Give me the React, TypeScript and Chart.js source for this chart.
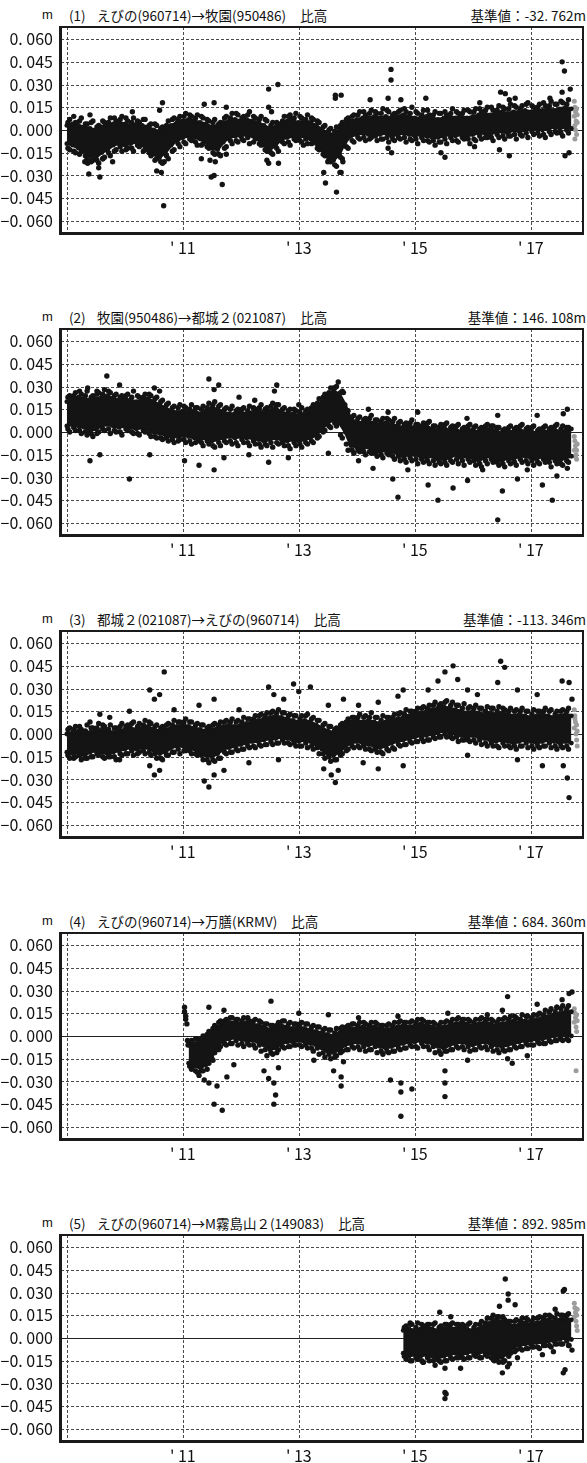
import React, { useEffect, useRef } from "react";
import { Chart, registerables } from "chart.js";
Chart.register(...registerables);

// ---------- axes ----------
const X_MIN = 2008.9;
const X_MAX = 2017.9;
const X_TICKS = [2009, 2011, 2013, 2015, 2017];
const X_LABELS = ["", "' 11", "' 13", "' 15", "' 17"];
const Y_MIN = -0.068;
const Y_MAX = 0.068;
const Y_TICKS = [-0.06, -0.045, -0.03, -0.015, 0, 0.015, 0.03, 0.045, 0.06];
const Y_LABELS = ["−0. 060", "−0. 045", "−0. 030", "−0. 015", "0. 000", "0. 015", "0. 030", "0. 045", "0. 060"];

// band samples every 0.1 year (values in mm): HI/LO = edges of the dense cloud,
// FHI/FLO = scattered dots just outside (half a step later), F2HI/F2LO = more of them (0.02 yr later).
const STEP = 0.1;

// ---------- (1) えびの→牧園 ----------
const P1_START = 2009.0;
const P1_HI = [3, 4, 3, 2, 1, 0, 2, 3, 4, 5, 4, 3, 4, 3, 2, 0, -1, 1, 3, 5, 6, 7, 6, 5, 4, 2, 3, 5, 6, 7, 6, 7, 6, 5, 3, 1, 2, 4, 6, 6, 5, 6, 5, 3, 0, -2, -3, 0, 4, 6, 7, 8, 8, 9, 8, 9, 8, 9, 10, 9, 8, 8, 9, 8, 7, 8, 9, 8, 9, 8, 9, 10, 11, 10, 11, 12, 11, 12, 12, 13, 12, 13, 13, 14, 13, 14, 15, 14];
const P1_LO = [-9, -10, -12, -14, -17, -18, -15, -13, -10, -9, -10, -9, -8, -10, -13, -16, -18, -15, -10, -7, -5, -4, -5, -6, -8, -12, -13, -8, -5, -4, -4, -3, -4, -6, -10, -13, -10, -6, -5, -4, -5, -4, -6, -9, -13, -17, -20, -16, -8, -4, -3, -2, -3, -2, -3, -2, -4, -3, -2, -3, -4, -3, -4, -5, -5, -4, -3, -4, -3, -4, -3, -2, -2, -3, -1, -1, -2, 0, -1, 0, 1, 1, 0, 1, 2, 1, 2, 1];
const P1_FHI = [7, 5, 8, 4, 6, 3, 5, 8, 6, 9, 6, 8, 5, 7, 4, 3, 2, 6, 8, 9, 11, 9, 10, 8, 6, 7, 5, 9, 11, 10, 9, 12, 8, 9, 6, 5, 4, 9, 8, 11, 8, 10, 7, 5, 3, 1, 2, 5, 8, 10, 12, 10, 13, 11, 14, 12, 11, 13, 12, 15, 11, 13, 10, 12, 11, 10, 14, 11, 13, 12, 14, 12, 15, 13, 16, 14, 17, 15, 16, 18, 15, 17, 16, 19, 17, 18, 20];
const P1_FLO = [-13, -15, -14, -19, -20, -22, -18, -17, -13, -14, -12, -14, -11, -13, -17, -19, -22, -19, -13, -11, -9, -7, -10, -9, -12, -16, -17, -11, -9, -8, -7, -9, -6, -10, -14, -16, -14, -9, -10, -7, -8, -9, -7, -13, -17, -21, -24, -19, -12, -8, -6, -7, -5, -7, -6, -8, -7, -6, -8, -7, -9, -7, -8, -10, -8, -9, -7, -8, -6, -9, -7, -6, -5, -7, -5, -6, -4, -6, -4, -5, -3, -4, -5, -3, -2, -4, -2];
const P1_F2HI = [5, 9, 6, 4, 5, 2, 6, 5, 8, 7, 8, 5, 6, 7, 3, 4, 1, 3, 7, 7, 9, 10, 8, 9, 7, 5, 4, 8, 8, 11, 8, 10, 9, 7, 7, 3, 5, 6, 9, 8, 9, 7, 8, 6, 2, 0, -1, 3, 7, 9, 10, 12, 11, 12, 11, 13, 10, 12, 14, 11, 12, 10, 13, 10, 11, 12, 11, 12, 11, 13, 12, 14, 13, 15, 13, 15, 14, 16, 14, 17, 16, 15, 18, 16, 17, 19, 17];
const P1_F2LO = [-12, -14, -16, -17, -21, -20, -19, -15, -14, -11, -13, -12, -10, -14, -15, -20, -21, -17, -14, -9, -8, -6, -8, -10, -11, -15, -16, -12, -7, -7, -6, -5, -8, -9, -13, -15, -12, -8, -8, -6, -7, -6, -9, -12, -16, -19, -23, -18, -11, -7, -5, -5, -6, -4, -6, -5, -6, -5, -5, -6, -6, -5, -7, -7, -8, -6, -5, -7, -5, -6, -6, -4, -5, -5, -3, -4, -4, -3, -3, -2, -1, -2, -3, -1, -1, -2, 0];
const P1_OUT = [
  [2009.31, -21], [2009.36, -22], [2009.38, -29], [2009.43, -20], [2009.55, -25], [2009.57, -31], [2009.62, -19], [2009.79, -21],
  [2010.55, -27], [2010.63, -28], [2010.67, -50], [2010.68, -21],
  [2011.32, -19], [2011.47, -20], [2011.49, -31], [2011.54, -30], [2011.56, -21], [2011.68, -36], [2011.75, -16],
  [2012.45, -20], [2012.48, -22], [2012.65, -22],
  [2013.08, -10], [2013.43, -28], [2013.46, -35], [2013.5, -21], [2013.65, -41], [2013.71, -28], [2013.73, -28], [2013.76, -21],
  [2014.54, -12], [2014.6, -15], [2015.45, -15], [2015.52, -18], [2016.03, -11], [2016.46, -13], [2016.63, -17], [2017.59, -17], [2017.66, -15],
  [2009.4, 10], [2010.13, 12], [2010.6, 13], [2010.65, 18], [2011.37, 17], [2011.54, 18], [2011.75, 15], [2012.48, 27], [2012.64, 30],
  [2012.48, 15], [2012.53, 12], [2012.85, 10], [2013.63, 23], [2013.73, 23], [2013.63, 21], [2014.23, 20], [2014.54, 21], [2014.59, 40],
  [2014.59, 33], [2014.76, 20], [2015.19, 21], [2016.12, 18], [2016.48, 25], [2016.56, 24], [2016.63, 20], [2016.73, 21], [2017.33, 21],
  [2017.54, 45], [2017.58, 39], [2017.54, 25], [2017.68, 27],
];
const P1_GRAY = [[2017.75, 19], [2017.76, 15], [2017.77, 12], [2017.75, 9], [2017.78, 6], [2017.76, 3], [2017.77, 0], [2017.79, -3], [2017.76, -6], [2017.8, 10], [2017.79, 14], [2017.8, 5]];

// ---------- (2) 牧園→都城２ ----------
const P2_START = 2009.0;
const P2_HI = [20, 22, 23, 22, 21, 22, 23, 24, 22, 21, 22, 21, 20, 21, 22, 20, 18, 16, 14, 13, 14, 13, 14, 12, 14, 16, 15, 13, 12, 12, 13, 12, 13, 14, 13, 14, 16, 13, 12, 12, 11, 12, 13, 16, 20, 24, 27, 25, 18, 8, 7, 6, 7, 6, 5, 6, 5, 4, 3, 4, 3, 2, 4, 2, 1, 3, 1, 2, 0, 2, 1, 0, 2, 2, 1, -1, 1, 0, 2, 0, 1, -1, 1, 0, 2, 0, 1, 2];
const P2_LO = [4, 5, 4, 3, 1, 2, 4, 5, 4, 3, 4, 3, 2, 3, 2, 0, -1, -2, -3, -3, -2, -3, -4, -5, -4, -6, -5, -4, -3, -4, -3, -4, -4, -5, -6, -5, -4, -5, -6, -5, -6, -5, -4, -2, 2, 6, 8, 6, 0, -9, -10, -11, -10, -12, -13, -12, -13, -14, -16, -15, -15, -16, -17, -16, -18, -18, -17, -15, -17, -16, -17, -19, -17, -16, -18, -19, -17, -18, -16, -16, -17, -18, -16, -18, -17, -19, -17, -16];
const P2_FHI = [24, 26, 25, 27, 24, 26, 28, 26, 25, 24, 25, 27, 23, 25, 24, 23, 21, 19, 17, 18, 16, 18, 16, 17, 19, 20, 18, 16, 17, 15, 16, 17, 15, 18, 16, 19, 18, 16, 15, 14, 16, 15, 18, 22, 25, 29, 30, 27, 14, 11, 10, 9, 11, 8, 9, 8, 9, 7, 6, 8, 5, 6, 7, 4, 5, 6, 4, 5, 3, 5, 4, 3, 5, 4, 3, 2, 4, 3, 5, 3, 4, 2, 4, 3, 5, 4, 3];
const P2_FLO = [0, 1, -1, -2, -3, 0, 1, -1, 0, -2, 1, -1, -2, 0, -3, -4, -5, -6, -7, -5, -7, -8, -6, -9, -8, -10, -9, -7, -8, -9, -7, -9, -8, -10, -9, -10, -8, -9, -11, -9, -10, -8, -7, -3, 1, 3, 4, -4, -12, -14, -13, -15, -14, -16, -17, -15, -18, -19, -20, -19, -21, -20, -21, -22, -21, -22, -20, -21, -22, -20, -22, -23, -21, -20, -22, -23, -21, -22, -20, -21, -22, -21, -20, -23, -21, -22, -20];
const P2_F2HI = [23, 24, 27, 24, 23, 25, 25, 27, 24, 23, 24, 23, 24, 23, 25, 22, 20, 18, 16, 16, 17, 15, 16, 15, 16, 18, 17, 15, 15, 14, 15, 14, 16, 16, 15, 17, 18, 15, 14, 15, 13, 14, 16, 19, 23, 26, 29, 26, 12, 10, 9, 8, 9, 8, 7, 9, 7, 6, 5, 6, 5, 4, 6, 4, 3, 5, 3, 4, 2, 4, 3, 2, 4, 4, 3, 1, 3, 2, 4, 2, 3, 1, 3, 2, 4, 2, 3];
const P2_F2LO = [2, 3, 1, 0, -1, -1, 2, 2, 1, 0, 2, 0, -1, 1, -1, -3, -4, -4, -5, -6, -5, -6, -7, -7, -6, -9, -7, -6, -6, -7, -5, -7, -6, -8, -8, -7, -7, -7, -9, -7, -8, -7, -6, -4, 0, 4, 6, -2, -8, -12, -12, -13, -13, -14, -15, -14, -16, -16, -18, -17, -18, -18, -19, -19, -20, -20, -19, -18, -19, -18, -19, -21, -19, -18, -20, -21, -19, -20, -18, -19, -19, -20, -18, -20, -19, -21, -19];
const P2_OUT = [
  [2009.36, 29], [2009.69, 37], [2009.52, 27], [2009.91, 31], [2010.51, 29], [2010.6, 27], [2011.45, 35], [2011.62, 31], [2011.54, 28],
  [2011.97, 23], [2012.62, 31], [2012.58, 27], [2012.24, 21], [2013.0, 18], [2013.68, 33], [2013.6, 29], [2013.77, 26], [2014.2, 15],
  [2014.54, 13], [2015.05, 13], [2015.9, 9], [2016.43, 11], [2017.11, 11], [2017.63, 15], [2017.56, 12],
  [2009.4, -19], [2010.08, -31], [2009.57, -15], [2010.43, -15], [2011.03, -19], [2011.28, -22], [2011.54, -25], [2011.71, -17],
  [2012.14, -15], [2012.48, -20], [2012.82, -17], [2013.51, -14], [2014.03, -19], [2014.28, -24], [2014.62, -31], [2014.71, -43],
  [2014.88, -25], [2015.23, -35], [2015.4, -45], [2015.66, -37], [2015.91, -32], [2016.17, -25], [2016.43, -58], [2016.51, -39],
  [2016.77, -31], [2016.94, -25], [2017.2, -35], [2017.37, -45], [2017.45, -29], [2017.63, -24],
];
const P2_GRAY = [[2017.75, -3], [2017.76, -6], [2017.77, -9], [2017.75, -12], [2017.78, -15], [2017.79, -18], [2017.8, -8], [2017.79, -12], [2017.76, -16]];

// ---------- (3) 都城２→えびの ----------
const P3_START = 2009.0;
const P3_HI = [0, 1, 2, 0, 1, 2, 3, 2, 1, 2, 3, 4, 3, 4, 5, 3, 2, 3, 4, 5, 6, 5, 4, 3, 2, 3, 4, 5, 6, 5, 6, 7, 8, 9, 10, 11, 12, 11, 10, 9, 8, 9, 8, 6, 4, 2, 1, 3, 6, 8, 9, 8, 9, 8, 7, 8, 9, 10, 11, 12, 13, 14, 15, 16, 17, 18, 17, 16, 15, 14, 15, 14, 13, 14, 13, 14, 13, 12, 13, 12, 11, 12, 13, 12, 11, 12, 13, 12];
const P3_LO = [-12, -13, -12, -14, -12, -11, -12, -13, -12, -11, -10, -9, -10, -9, -9, -11, -13, -12, -9, -8, -8, -9, -10, -12, -14, -15, -13, -10, -9, -8, -7, -6, -5, -5, -4, -3, -3, -2, -3, -4, -5, -4, -5, -7, -10, -13, -14, -12, -8, -6, -5, -6, -7, -8, -9, -8, -6, -5, -4, -3, -2, -1, -1, 0, 1, 2, 1, 0, -1, -2, -1, -2, -3, -4, -5, -4, -5, -6, -5, -4, -5, -6, -5, -4, -5, -6, -5, -6];
const P3_FHI = [4, 5, 3, 6, 4, 7, 5, 6, 4, 7, 6, 8, 7, 9, 7, 6, 5, 7, 9, 8, 10, 8, 7, 6, 5, 7, 8, 9, 10, 9, 11, 10, 12, 13, 14, 15, 16, 14, 13, 12, 12, 13, 11, 9, 7, 5, 4, 7, 10, 11, 13, 12, 14, 11, 12, 11, 13, 14, 16, 15, 17, 18, 19, 21, 20, 22, 21, 19, 20, 18, 19, 17, 18, 17, 18, 16, 17, 16, 17, 15, 16, 15, 17, 16, 15, 16, 17];
const P3_FLO = [-16, -15, -17, -16, -15, -14, -16, -15, -17, -14, -13, -14, -12, -13, -14, -16, -17, -14, -12, -13, -11, -13, -14, -17, -19, -18, -16, -13, -12, -11, -10, -9, -9, -8, -7, -7, -6, -6, -7, -8, -8, -9, -10, -13, -16, -18, -17, -13, -10, -9, -9, -10, -11, -12, -13, -11, -10, -8, -7, -6, -5, -5, -4, -3, -2, -2, -3, -5, -4, -5, -6, -7, -8, -8, -9, -8, -9, -10, -8, -9, -10, -9, -8, -9, -10, -9, -10];
const P3_F2HI = [3, 3, 5, 2, 4, 4, 6, 3, 4, 5, 5, 7, 5, 6, 8, 5, 4, 6, 6, 8, 8, 8, 6, 6, 4, 6, 6, 8, 8, 8, 8, 10, 10, 12, 12, 14, 14, 14, 12, 12, 10, 12, 10, 9, 6, 5, 3, 6, 8, 11, 11, 11, 11, 11, 9, 11, 11, 13, 13, 15, 15, 17, 17, 19, 19, 21, 19, 19, 17, 17, 17, 17, 15, 17, 15, 17, 15, 15, 15, 15, 13, 15, 15, 15, 13, 15, 15];
const P3_F2LO = [-14, -16, -14, -16, -15, -13, -15, -15, -15, -13, -13, -11, -13, -11, -12, -13, -16, -14, -12, -10, -11, -11, -13, -14, -17, -17, -16, -12, -12, -10, -10, -8, -8, -7, -7, -5, -6, -4, -6, -6, -8, -6, -8, -9, -13, -15, -17, -14, -11, -8, -8, -8, -10, -10, -12, -10, -9, -7, -7, -5, -5, -3, -4, -2, -2, 0, -2, -2, -4, -4, -4, -4, -6, -6, -8, -6, -8, -8, -8, -6, -8, -8, -8, -6, -8, -8, -8];
const P3_OUT = [
  [2009.4, 8], [2009.57, 13], [2009.74, 11], [2010.08, 15], [2010.43, 29], [2010.51, 23], [2010.6, 26], [2010.68, 41], [2010.85, 16],
  [2011.28, 19], [2011.54, 23], [2011.97, 16], [2012.48, 31], [2012.57, 26], [2012.74, 23], [2012.91, 33], [2013.0, 28], [2013.2, 31],
  [2013.51, 19], [2013.77, 23], [2014.03, 19], [2014.37, 21], [2014.71, 25], [2014.8, 29], [2015.23, 29], [2015.4, 35], [2015.52, 41],
  [2015.66, 45], [2015.74, 36], [2015.91, 29], [2016.08, 26], [2016.43, 34], [2016.48, 48], [2016.55, 44], [2016.77, 29], [2017.11, 26],
  [2017.54, 35], [2017.66, 34], [2017.71, 23],
  [2009.91, -17], [2010.43, -21], [2010.51, -27], [2010.6, -24], [2011.37, -31], [2011.45, -35], [2011.54, -27], [2011.71, -24],
  [2012.14, -19], [2012.65, -17], [2013.43, -23], [2013.56, -27], [2013.63, -32], [2013.68, -24], [2014.11, -19], [2014.37, -23],
  [2014.8, -21], [2015.91, -14], [2016.77, -17], [2017.2, -21], [2017.56, -21], [2017.63, -29], [2017.66, -42],
];
const P3_GRAY = [[2017.75, 16], [2017.76, 12], [2017.77, 8], [2017.75, 4], [2017.78, 0], [2017.79, -4], [2017.8, -8], [2017.79, 6], [2017.76, 10], [2017.8, 2]];

// ---------- (4) えびの→万膳 ----------
const P4_START = 2011.1;
const P4_HI = [-6, -5, -4, -1, 3, 6, 8, 9, 9, 8, 9, 8, 7, 6, 4, 5, 7, 6, 5, 6, 5, 4, 3, 2, 1, 0, 2, 4, 5, 5, 6, 5, 6, 5, 4, 5, 6, 7, 6, 7, 8, 7, 6, 5, 6, 7, 8, 9, 8, 7, 8, 9, 8, 7, 8, 9, 10, 9, 10, 10, 11, 12, 13, 14, 15, 16, 16];
const P4_LO = [-18, -20, -21, -19, -14, -6, -3, -2, -1, -2, -3, -3, -4, -6, -9, -8, -5, -4, -4, -3, -4, -5, -6, -8, -10, -11, -9, -6, -5, -4, -5, -6, -5, -7, -8, -7, -6, -5, -4, -4, -3, -4, -5, -7, -8, -6, -5, -4, -5, -6, -5, -4, -5, -6, -7, -6, -5, -4, -3, -3, -2, -2, -1, 0, 0, 1, 0];
const P4_FHI = [-3, -2, 0, 3, 7, 10, 11, 12, 11, 12, 10, 11, 9, 8, 7, 9, 10, 9, 8, 9, 8, 7, 6, 5, 4, 5, 6, 7, 8, 9, 8, 9, 8, 7, 8, 9, 10, 9, 10, 11, 10, 9, 8, 9, 10, 11, 12, 11, 10, 11, 12, 11, 10, 11, 12, 13, 12, 14, 13, 14, 15, 17, 18, 19, 20, 20];
const P4_FLO = [-22, -24, -23, -18, -11, -7, -6, -5, -6, -7, -6, -8, -10, -13, -12, -9, -8, -7, -6, -7, -8, -10, -12, -14, -15, -13, -10, -9, -8, -9, -10, -9, -11, -12, -11, -10, -9, -8, -7, -8, -7, -9, -11, -12, -10, -9, -8, -9, -10, -9, -8, -9, -10, -11, -10, -9, -8, -7, -6, -6, -5, -5, -4, -3, -3, -3];
const P4_F2HI = [-4, -2, -2, 1, 5, 9, 10, 12, 11, 10, 12, 10, 10, 8, 7, 7, 10, 8, 8, 8, 8, 6, 6, 4, 4, 2, 5, 6, 8, 7, 9, 7, 9, 7, 7, 7, 9, 9, 9, 9, 11, 9, 9, 7, 9, 9, 11, 11, 11, 9, 11, 11, 11, 9, 11, 11, 13, 11, 13, 12, 14, 14, 16, 16, 18, 18];
const P4_F2LO = [-20, -23, -23, -22, -16, -9, -5, -5, -3, -5, -5, -6, -6, -9, -11, -11, -7, -7, -6, -6, -6, -8, -8, -11, -12, -14, -11, -9, -7, -7, -7, -9, -7, -10, -10, -10, -8, -8, -6, -7, -5, -7, -7, -10, -10, -9, -7, -7, -7, -9, -7, -7, -7, -9, -9, -9, -7, -7, -5, -6, -4, -5, -3, -3, -2, -2];
const P4_OUT = [
  [2011.03, 19], [2011.03, 16], [2011.05, 13], [2011.05, 11], [2011.07, 8], [2011.08, -3], [2011.09, -6],
  [2011.45, 19], [2011.71, 17], [2012.52, 23], [2013.0, 15], [2013.51, 14], [2014.03, 12], [2014.71, 13], [2015.57, 15], [2016.25, 14],
  [2016.51, 17], [2016.6, 26], [2017.11, 21], [2017.45, 19], [2017.54, 24], [2017.66, 28], [2017.71, 29],
  [2011.28, -26], [2011.37, -29], [2011.45, -31], [2011.54, -45], [2011.68, -49], [2011.59, -33], [2011.76, -27], [2011.88, -19],
  [2012.4, -23], [2012.48, -28], [2012.57, -31], [2012.6, -39], [2012.57, -45], [2012.65, -21], [2013.26, -16], [2013.6, -23],
  [2013.73, -27], [2013.73, -33], [2013.77, -17], [2014.58, -29], [2014.76, -31], [2014.76, -37], [2014.76, -53], [2014.95, -35],
  [2015.52, -23], [2015.52, -31], [2015.52, -40], [2015.91, -16], [2016.68, -18], [2016.6, -15], [2016.94, -13],
];
const P4_GRAY = [[2017.75, 18], [2017.76, 15], [2017.77, 12], [2017.75, 9], [2017.78, 6], [2017.79, 3], [2017.8, 10], [2017.79, 14], [2017.78, -23]];

// ---------- (5) えびの→M霧島山２ ----------
const P5_START = 2014.8;
const P5_HI = [5, 6, 5, 6, 7, 6, 5, 6, 7, 6, 7, 6, 5, 6, 8, 10, 12, 11, 9, 8, 9, 10, 9, 10, 11, 12, 11, 12, 13, 12];
const P5_LO = [-10, -12, -11, -12, -11, -12, -13, -12, -11, -10, -11, -10, -9, -10, -9, -10, -12, -13, -10, -6, -5, -4, -4, -3, -3, -2, -2, -1, 0, -1];
const P5_FHI = [8, 9, 10, 8, 9, 10, 8, 9, 10, 9, 8, 10, 9, 11, 13, 15, 14, 12, 11, 12, 13, 12, 13, 14, 15, 14, 16, 15, 16];
const P5_FLO = [-14, -15, -14, -16, -15, -14, -16, -15, -14, -13, -14, -13, -12, -13, -12, -14, -16, -15, -10, -8, -8, -7, -6, -7, -5, -6, -4, -4, -5];
const P5_F2HI = [7, 9, 7, 9, 9, 9, 7, 9, 9, 9, 9, 9, 7, 9, 10, 13, 14, 14, 11, 11, 11, 13, 11, 13, 13, 15, 13, 15, 15];
const P5_F2LO = [-12, -15, -13, -15, -13, -15, -15, -15, -13, -13, -13, -13, -11, -13, -11, -13, -14, -16, -12, -9, -7, -7, -6, -6, -5, -5, -4, -4, -2];
const P5_OUT = [
  [2014.92, 10], [2015.43, 17], [2015.62, 14], [2015.52, -36], [2015.52, -40], [2015.54, -37], [2015.79, -20], [2015.35, -18],
  [2015.52, -20], [2015.14, -16], [2016.56, 39], [2016.61, 29], [2016.61, 25], [2016.73, 22], [2016.46, 21], [2016.51, -23],
  [2016.63, -17], [2016.6, -19], [2016.37, -15], [2016.77, -13], [2017.2, -11], [2017.39, -9], [2017.56, 31], [2017.58, 32],
  [2017.56, -23], [2017.59, -21], [2017.42, 19], [2017.66, -5], [2017.71, -8],
];
const P5_GRAY = [[2017.75, 23], [2017.76, 20], [2017.77, 17], [2017.75, 14], [2017.78, 11], [2017.79, 8], [2017.8, 5], [2017.79, 15], [2017.8, 19]];

const PANELS = [
  { num: "(1)", name: "えびの(960714)→牧園(950486)", base: "基準値：-32. 762m", start: P1_START, hi: P1_HI, lo: P1_LO, fhi: P1_FHI, flo: P1_FLO, f2hi: P1_F2HI, f2lo: P1_F2LO, out: P1_OUT, gray: P1_GRAY },
  { num: "(2)", name: "牧園(950486)→都城２(021087)", base: "基準値：146. 108m", start: P2_START, hi: P2_HI, lo: P2_LO, fhi: P2_FHI, flo: P2_FLO, f2hi: P2_F2HI, f2lo: P2_F2LO, out: P2_OUT, gray: P2_GRAY },
  { num: "(3)", name: "都城２(021087)→えびの(960714)", base: "基準値：-113. 346m", start: P3_START, hi: P3_HI, lo: P3_LO, fhi: P3_FHI, flo: P3_FLO, f2hi: P3_F2HI, f2lo: P3_F2LO, out: P3_OUT, gray: P3_GRAY },
  { num: "(4)", name: "えびの(960714)→万膳(KRMV)", base: "基準値：684. 360m", start: P4_START, hi: P4_HI, lo: P4_LO, fhi: P4_FHI, flo: P4_FLO, f2hi: P4_F2HI, f2lo: P4_F2LO, out: P4_OUT, gray: P4_GRAY },
  { num: "(5)", name: "えびの(960714)→M霧島山２(149083)", base: "基準値：892. 985m", start: P5_START, hi: P5_HI, lo: P5_LO, fhi: P5_FHI, flo: P5_FLO, f2hi: P5_F2HI, f2lo: P5_F2LO, out: P5_OUT, gray: P5_GRAY },
];

// ---------- styling ----------
const INK = "#141414";
const GRAY = "#9c9c9c";
const PANEL_GAP = 302;
const CANVAS_W = 587;
const CANVAS_H = 255;
const NARROW = "'Liberation Sans Narrow', 'Arial Narrow', 'Noto Sans CJK JP', sans-serif";
const TICK_FONT = { family: NARROW, size: 16 };

const framePlugin = {
  id: "frame",
  beforeDatasetsDraw(chart: any) {
    const { ctx, chartArea: a, scales } = chart;
    const x = scales.x, y = scales.y;
    ctx.save();
    ctx.lineWidth = 1;
    ctx.strokeStyle = "#4a4a4a";
    ctx.setLineDash([3, 2]);
    ctx.beginPath();
    for (const v of Y_TICKS) {
      if (v === 0) continue;
      const py = Math.round(y.getPixelForValue(v)) + 0.5;
      ctx.moveTo(a.left, py);
      ctx.lineTo(a.right, py);
    }
    for (const v of X_TICKS) {
      const px = Math.round(x.getPixelForValue(v)) + 0.5;
      ctx.moveTo(px, a.top);
      ctx.lineTo(px, a.bottom);
    }
    ctx.stroke();
    ctx.setLineDash([]);
    ctx.strokeStyle = "#222";
    ctx.beginPath();
    const pz = Math.round(y.getPixelForValue(0)) + 0.5;
    ctx.moveTo(a.left, pz);
    ctx.lineTo(a.right, pz);
    ctx.stroke();
    ctx.restore();
  },
  afterDatasetsDraw(chart: any) {
    const { ctx, chartArea: a } = chart;
    ctx.save();
    ctx.fillStyle = "#1a1a1a";
    const w = a.right - a.left, h = a.bottom - a.top;
    ctx.fillRect(a.left - 1, a.top - 1, w + 2, 2);
    ctx.fillRect(a.right - 1, a.top - 1, 2, h + 2);
    ctx.fillRect(a.left - 2, a.top - 1, 3, h + 3);
    ctx.fillRect(a.left - 2, a.bottom - 1, w + 3, 3);
    ctx.restore();
  },
};

function Panel({ p, top }: { p: any; top: number }) {
  const ref = useRef<HTMLCanvasElement>(null);
  useEffect(() => {
    const xAt = (i: number, off: number) => Math.round((p.start + off + i * STEP) * 100) / 100;
    const series = (arr: number[], off: number) => arr.map((v, i) => ({ x: xAt(i, off), y: v / 1000 }));
    const pairs = (arr: number[][]) => arr.map(([x, v]) => ({ x, y: v / 1000 }));
    const dot = { showLine: false, backgroundColor: INK, borderColor: INK, pointRadius: 2.7, pointBackgroundColor: INK, pointBorderWidth: 0, pointHoverRadius: 0 };
    const edge = { showLine: true, backgroundColor: INK, borderColor: INK, borderWidth: 3, pointRadius: 2.4, pointBackgroundColor: INK, pointBorderWidth: 0, pointHoverRadius: 0 };
    const chart = new Chart(ref.current as HTMLCanvasElement, {
      type: "scatter",
      data: {
        datasets: [
          { data: series(p.hi, 0), fill: "+1", ...edge },
          { data: series(p.lo, 0), fill: false, ...edge },
          { data: series(p.fhi, 0.05), ...dot },
          { data: series(p.flo, 0.05), ...dot },
          { data: series(p.f2hi, 0.02), ...dot },
          { data: series(p.f2lo, 0.02), ...dot },
          { data: pairs(p.out), ...dot },
          { data: pairs(p.gray), showLine: false, backgroundColor: GRAY, borderColor: GRAY, pointRadius: 2.5, pointBackgroundColor: GRAY, pointBorderWidth: 0 },
        ],
      } as any,
      options: {
        responsive: false,
        animation: false,
        events: [],
        layout: { padding: { top: 27, right: 1, left: 0, bottom: 0 } },
        plugins: { legend: { display: false }, tooltip: { enabled: false }, title: { display: false } },
        scales: {
          x: {
            type: "linear",
            min: X_MIN,
            max: X_MAX,
            grid: { display: false, drawTicks: false },
            border: { display: false },
            afterBuildTicks: (s: any) => { s.ticks = X_TICKS.map((v) => ({ value: v })); },
            afterFit: (s: any) => { s.height = CANVAS_H - 233; },
            ticks: { autoSkip: false, maxRotation: 0, padding: 5, color: "#111", font: TICK_FONT, callback: (_v: any, i: number) => X_LABELS[i] },
          },
          y: {
            type: "linear",
            min: Y_MIN,
            max: Y_MAX,
            grid: { display: false, drawTicks: false },
            border: { display: false },
            afterBuildTicks: (s: any) => { s.ticks = Y_TICKS.map((v) => ({ value: v })); },
            afterFit: (s: any) => { s.width = 61; },
            ticks: { autoSkip: false, padding: 8, color: "#111", font: TICK_FONT, callback: (_v: any, i: number) => Y_LABELS[i] },
          },
        },
      } as any,
      plugins: [framePlugin],
    });
    return () => chart.destroy();
  }, [p]);

  const txt: React.CSSProperties = { position: "absolute", top: top + 5, lineHeight: "20px", fontFamily: NARROW, fontSize: 13.5, color: "#111", whiteSpace: "nowrap" };
  return (
    <>
      <div style={{ ...txt, left: 42, fontFamily: "'Liberation Sans', sans-serif", fontSize: 13 }}>m</div>
      <div style={{ ...txt, left: 69 }}>{p.num}</div>
      <div style={{ ...txt, left: 97 }}>
        {p.name}
        <span style={{ marginLeft: 14 }}>比高</span>
      </div>
      <div style={{ ...txt, right: 1, left: "auto" }}>{p.base}</div>
      <canvas ref={ref} width={CANVAS_W} height={CANVAS_H} style={{ position: "absolute", left: 0, top, width: CANVAS_W, height: CANVAS_H }} />
    </>
  );
}

export default function App() {
  return (
    <div style={{ position: "absolute", left: 0, top: 0, width: CANVAS_W, height: 1463, overflow: "hidden", background: "#fff" }}>
      {PANELS.map((p, i) => (
        <Panel key={i} p={p} top={i * PANEL_GAP} />
      ))}
    </div>
  );
}
